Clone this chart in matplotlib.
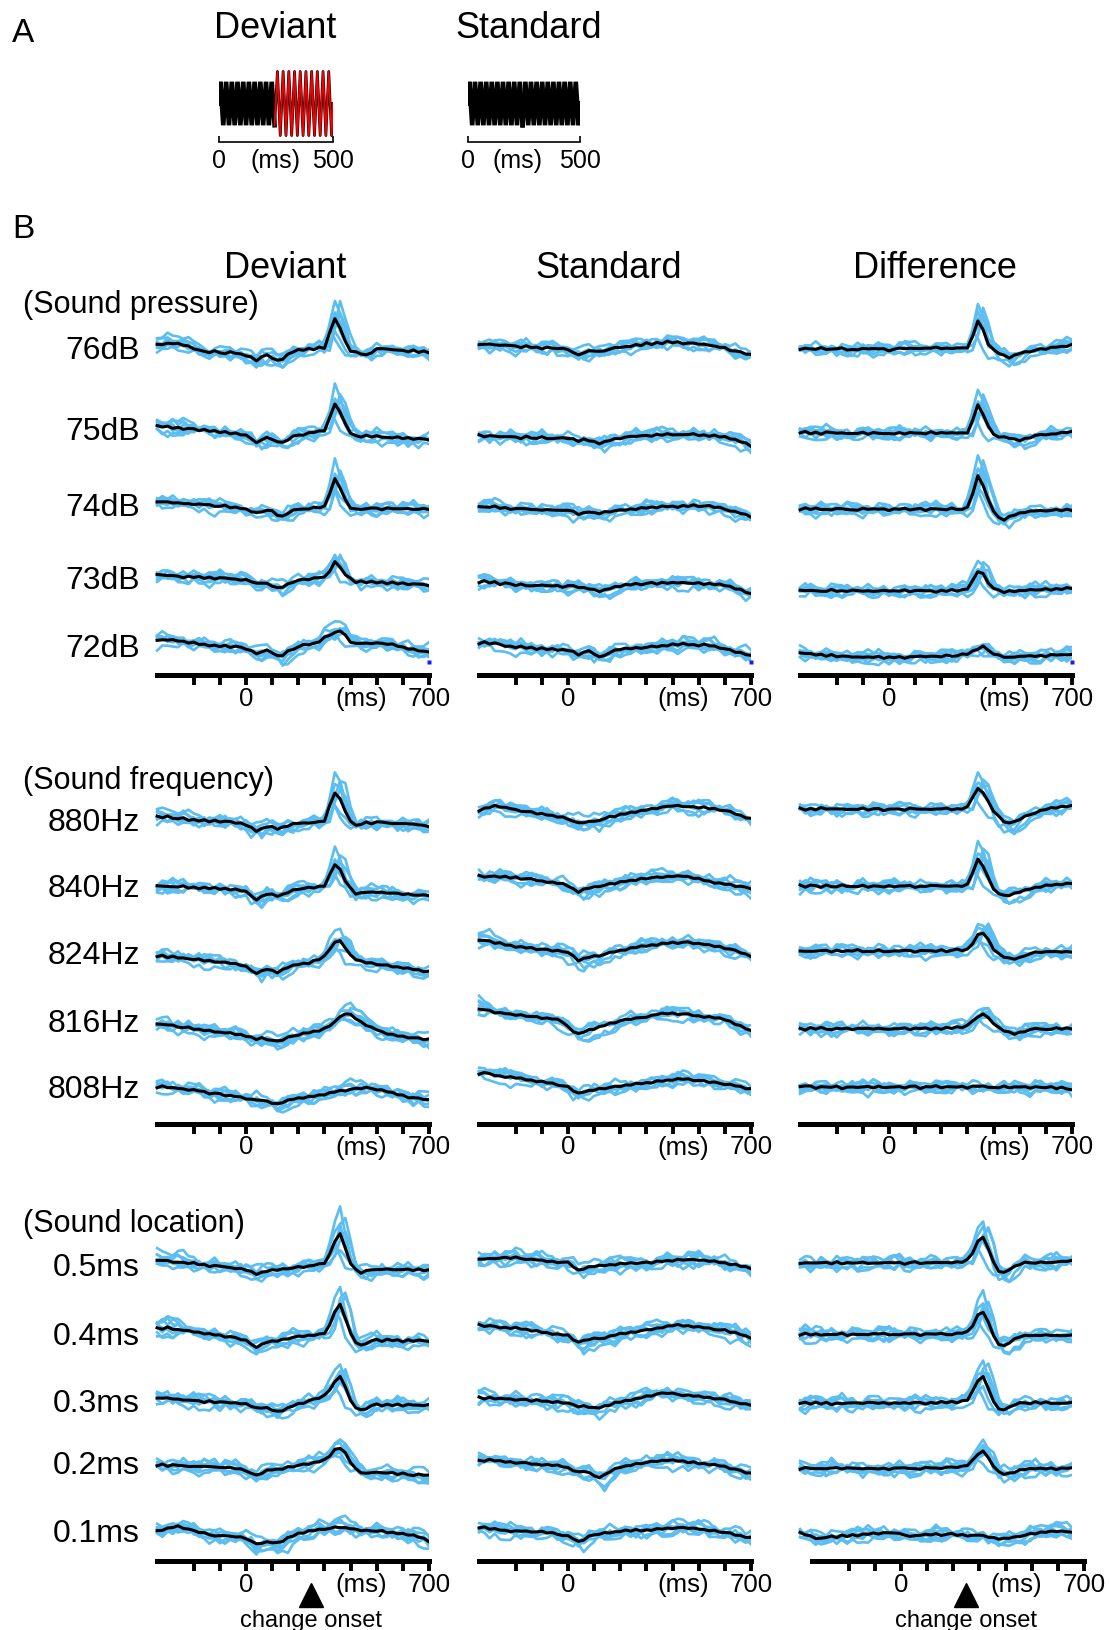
import numpy as np
import matplotlib.pyplot as plt
from matplotlib.transforms import blended_transform_factory, offset_copy

plt.rcParams['font.family'] = ['Liberation Sans', 'DejaVu Sans']

W, H = 1110, 1630
fig = plt.figure(figsize=(W / 100, H / 100), dpi=100)

TRACE_BLUE = '#5bbdf0'

# time base of the averaged responses, ms from deviant onset
t_ms = np.arange(-340, 701, 20)

# ---------------- grand means (uV) ----------------
# sound pressure
dev_76dB = [0.8,1.0,1.2,1.3,1.1,0.8,0.4,0.0,-0.5,-0.9,-1.0,-0.8,-1.1,-1.2,-1.0,-1.3,-1.6,-1.8,-2.3,-3.0,-2.2,-1.8,-2.4,-3.0,-2.6,-1.6,-0.9,-0.5,-0.4,-0.1,-0.2,0.1,0.0,3.8,7.5,5.0,1.6,-0.6,-1.0,-1.4,-1.7,-1.0,-0.3,0.0,-0.2,-0.5,-0.3,-0.6,-0.8,-0.6,-1.0,-0.8,-1.0]
dev_75dB = [0.8,0.6,0.7,0.4,0.3,0.1,0.2,0.0,-0.2,-0.1,-0.4,-0.5,-0.8,-0.7,-1.0,-1.1,-1.3,-1.5,-2.2,-3.5,-2.6,-2.2,-2.4,-3.2,-3.4,-2.6,-1.9,-1.4,-1.3,-1.0,-0.8,-0.6,-0.3,2.8,6.5,4.2,1.2,-0.9,-1.6,-1.8,-1.6,-1.9,-1.8,-1.9,-2.1,-2.0,-2.1,-2.3,-2.2,-2.4,-2.3,-2.6,-2.5]
dev_74dB = [0.8,1.0,0.7,0.6,0.4,0.5,0.3,0.3,0.1,0.2,0.0,-0.2,-0.3,-0.2,-0.5,-0.6,-0.8,-1.0,-1.5,-2.0,-1.6,-1.3,-1.5,-2.4,-2.8,-2.0,-1.4,-1.0,-1.1,-0.8,-0.7,-0.6,-0.3,3.0,6.5,4.3,1.2,-0.6,-1.0,-1.2,-0.8,-0.9,-0.7,-1.0,-0.8,-0.9,-1.1,-0.8,-1.0,-0.9,-1.1,-1.0,-1.0]
dev_73dB = [0.8,0.6,0.7,0.4,0.5,0.2,0.3,0.1,0.2,0.0,0.1,-0.1,0.0,-0.2,-0.1,-0.3,-0.4,-0.5,-0.9,-1.5,-1.2,-1.4,-1.9,-2.6,-2.3,-1.6,-1.0,-0.6,-0.5,-0.3,-0.1,0.1,0.2,1.8,3.9,2.8,0.8,-0.2,-1.0,-0.8,-1.1,-1.0,-1.2,-1.1,-1.3,-1.2,-1.4,-1.3,-1.5,-1.6,-1.5,-1.8,-1.8]
dev_72dB = [1.7,1.6,1.7,1.5,1.4,1.2,1.0,0.9,0.6,0.5,0.3,0.2,0.0,0.1,-0.1,0.0,-0.3,-0.6,-1.2,-1.8,-1.2,-1.0,-1.6,-2.5,-2.2,-1.2,-0.6,-0.2,0.3,0.5,0.8,1.3,2.2,2.8,3.3,4.0,2.8,1.2,0.6,0.8,0.7,0.8,0.9,0.6,0.7,0.5,0.1,-0.2,-0.5,-0.8,-1.0,-1.2,-1.5]

std_76dB = [1.0,0.8,1.1,0.7,0.9,0.6,0.8,0.5,0.3,0.5,0.2,0.1,0.0,0.2,-0.1,0.0,-0.2,-0.3,-0.9,-1.8,-1.2,-0.8,-0.6,-0.9,-0.5,-0.3,0.0,0.3,0.4,0.6,0.8,0.7,1.2,1.0,1.4,1.3,1.6,1.4,1.5,1.2,1.3,1.1,1.2,0.9,0.8,0.5,0.4,0.0,-0.5,-0.7,-1.0,-1.3,-1.6]
std_75dB = [-1.5,-1.8,-1.6,-1.9,-1.7,-2.0,-1.8,-2.0,-2.2,-1.9,-2.1,-2.3,-2.0,-2.2,-2.4,-2.1,-2.3,-2.3,-2.5,-2.9,-2.6,-2.8,-3.1,-3.5,-3.2,-2.8,-2.5,-2.2,-2.0,-1.9,-1.7,-1.8,-1.5,-1.6,-1.4,-1.5,-1.3,-1.3,-1.5,-1.2,-1.4,-1.3,-1.5,-1.4,-1.6,-1.6,-1.9,-2.0,-2.3,-2.6,-3.0,-3.6,-4.2]
std_74dB = [-0.5,-0.3,-0.6,-0.4,-0.7,-0.6,-0.9,-1.0,-0.8,-1.1,-1.0,-1.2,-1.1,-1.3,-1.2,-1.4,-1.2,-1.3,-1.7,-2.2,-2.0,-1.7,-1.9,-2.0,-1.8,-1.6,-1.4,-1.3,-1.1,-1.0,-1.0,-0.8,-0.7,-0.6,-0.5,-0.4,-0.3,-0.3,-0.4,-0.2,-0.3,-0.1,-0.2,-0.3,-0.2,-0.5,-0.7,-1.0,-1.3,-1.7,-2.1,-2.5,-2.9]
std_73dB = [-1.0,-0.8,-1.2,-1.1,-1.5,-1.3,-1.6,-1.8,-1.7,-1.9,-1.8,-2.0,-1.8,-2.1,-1.9,-2.0,-2.2,-2.0,-2.1,-2.3,-2.4,-2.6,-3.0,-3.4,-3.1,-2.6,-2.2,-2.0,-1.8,-1.7,-1.5,-1.6,-1.4,-1.3,-1.4,-1.2,-1.3,-1.2,-1.1,-1.3,-1.2,-1.4,-1.3,-1.5,-1.4,-1.6,-1.7,-1.9,-2.2,-2.6,-3.0,-3.5,-4.0]
std_72dB = [0.8,1.0,0.7,0.9,0.4,0.2,0.0,-0.2,-0.1,-0.4,-0.3,-0.6,-0.5,-0.7,-0.6,-0.8,-0.9,-1.0,-1.4,-2.0,-1.5,-1.2,-1.8,-2.8,-2.2,-1.4,-1.0,-0.8,-0.6,-0.5,-0.4,-0.3,-0.3,-0.1,0.0,0.2,0.3,0.5,0.4,0.6,0.5,0.4,0.3,0.4,0.2,0.0,-0.3,-0.6,-1.0,-1.3,-1.6,-2.0,-2.3]

diff_76dB = [-0.2,0.0,-0.3,-0.1,0.1,-0.2,-0.4,-0.1,0.0,-0.3,-0.5,-0.3,-0.1,0.0,-0.2,-0.1,-0.3,-0.5,-0.3,-0.1,0.0,-0.2,0.0,0.1,-0.1,0.0,0.1,0.0,-0.1,0.1,0.0,-0.1,0.2,3.0,7.0,4.5,1.0,-0.5,-1.2,-1.8,-2.3,-1.9,-1.3,-1.0,-0.8,-0.5,-0.3,-0.1,0.1,0.3,0.4,0.6,0.8]
diff_75dB = [-0.8,-0.6,-1.0,-0.9,-1.2,-0.8,-0.7,-1.0,-1.1,-0.9,-1.2,-1.0,-0.8,-1.1,-1.0,-0.9,-1.1,-1.2,-1.0,-0.9,-1.1,-1.0,-0.9,-1.1,-1.0,-0.8,-1.0,-0.9,-0.8,-1.0,-0.9,-1.1,-0.8,2.2,6.0,3.8,0.6,-1.2,-1.8,-2.0,-2.3,-2.6,-2.8,-2.4,-2.0,-1.6,-1.5,-1.3,-1.2,-1.0,-0.9,-0.8,-0.7]
diff_74dB = [-1.0,-0.8,-1.1,-0.9,-1.0,-1.2,-1.0,-0.9,-1.1,-1.0,-1.2,-1.1,-0.9,-1.0,-1.1,-0.9,-1.0,-1.2,-1.1,-1.0,-0.9,-1.1,-1.0,-1.0,-1.2,-1.0,-0.9,-1.1,-1.0,-0.9,-1.0,-1.1,-0.6,3.0,7.3,5.0,1.2,-1.5,-3.2,-3.6,-3.0,-2.4,-2.0,-1.7,-1.6,-1.4,-1.5,-1.3,-1.4,-1.2,-1.3,-1.2,-1.3]
diff_73dB = [-3.2,-3.0,-3.3,-3.1,-3.4,-3.2,-3.0,-3.3,-3.4,-3.2,-3.1,-3.3,-3.2,-3.4,-3.3,-3.1,-3.2,-3.3,-3.4,-3.2,-3.1,-3.3,-3.2,-3.3,-3.1,-3.2,-3.4,-3.2,-3.3,-3.1,-3.2,-3.0,-2.6,-0.8,1.6,1.0,-1.2,-2.6,-3.2,-3.5,-3.3,-3.4,-3.2,-3.0,-3.1,-2.9,-3.0,-2.8,-2.9,-2.7,-2.8,-2.6,-2.6]
diff_72dB = [-1.8,-1.6,-1.9,-2.1,-2.0,-2.3,-2.2,-2.5,-2.4,-2.6,-2.5,-2.7,-2.6,-2.8,-2.7,-2.6,-2.8,-2.8,-2.7,-2.6,-2.8,-2.7,-2.5,-2.6,-2.4,-2.5,-2.6,-2.5,-2.3,-2.4,-2.2,-2.0,-2.0,-1.3,-0.6,0.0,-0.8,-2.0,-2.3,-2.6,-2.7,-2.5,-2.6,-2.4,-2.5,-2.4,-2.3,-2.4,-2.2,-2.1,-2.2,-2.0,-2.0]

# sound frequency
dev_880Hz = [0.8,0.6,0.9,0.5,0.3,0.4,0.1,0.0,-0.2,0.0,-0.3,-0.2,-0.4,-0.3,-0.5,-0.6,-0.8,-1.2,-2.0,-2.8,-2.2,-1.6,-1.8,-2.2,-1.8,-1.4,-1.0,-0.8,-0.9,-0.6,-0.7,-0.5,-0.2,3.5,6.8,5.5,2.0,-0.3,-1.5,-1.0,-0.6,-0.8,-0.5,-0.7,-0.6,-0.9,-0.7,-1.0,-0.9,-1.2,-1.1,-1.4,-1.5]
dev_840Hz = [0.0,0.2,-0.1,0.1,-0.2,0.0,-0.3,-0.1,-0.4,-0.3,-0.5,-0.4,-0.6,-0.5,-0.7,-0.8,-1.0,-1.3,-2.2,-3.4,-2.6,-1.8,-2.0,-2.4,-2.0,-1.4,-1.0,-0.6,-0.5,-0.3,-0.2,0.0,0.2,2.8,5.5,4.2,1.5,-0.5,-1.8,-1.6,-1.3,-1.5,-1.4,-1.6,-1.5,-1.7,-1.8,-1.9,-2.0,-2.1,-2.0,-2.2,-2.3]
dev_824Hz = [-0.8,-0.6,-1.0,-0.9,-1.2,-1.4,-1.3,-1.7,-1.6,-1.9,-2.0,-2.2,-2.1,-2.4,-2.6,-2.8,-3.0,-3.4,-4.2,-5.2,-4.6,-4.0,-4.3,-4.8,-4.2,-3.6,-3.2,-2.8,-2.6,-2.5,-2.0,-1.6,-0.8,1.0,2.7,2.9,1.4,-0.6,-1.6,-2.0,-2.3,-2.6,-2.8,-3.0,-3.1,-3.3,-3.5,-3.7,-3.9,-4.1,-4.3,-4.5,-4.7]
dev_816Hz = [-0.8,-1.0,-0.9,-1.3,-1.5,-1.8,-1.7,-2.0,-2.2,-2.4,-2.6,-2.8,-3.0,-2.9,-3.2,-3.4,-3.5,-3.8,-4.2,-4.7,-4.4,-4.6,-5.0,-5.2,-4.8,-4.3,-3.8,-3.5,-3.2,-3.1,-2.8,-2.5,-2.0,-1.2,-0.3,0.8,1.8,1.6,0.6,-0.4,-1.2,-1.8,-2.2,-2.8,-3.2,-3.6,-3.8,-4.0,-4.2,-4.3,-4.5,-4.6,-4.7]
dev_808Hz = [0.0,0.2,-0.1,-0.3,-0.2,-0.5,-0.6,-0.8,-0.9,-1.2,-1.6,-1.5,-1.8,-2.0,-2.2,-2.3,-2.5,-2.8,-3.2,-3.1,-3.3,-3.6,-3.9,-4.2,-3.8,-3.4,-3.0,-2.8,-2.6,-2.5,-2.2,-2.0,-1.8,-1.5,-1.2,-1.0,-0.8,-0.6,-0.4,-0.3,-0.2,-0.3,-0.5,-0.8,-1.2,-1.5,-1.8,-2.1,-2.5,-2.7,-2.9,-3.0,-3.1]

std_880Hz = [2.3,2.8,3.2,3.6,3.4,3.0,2.9,2.5,2.3,2.1,1.9,1.7,1.5,1.3,1.1,0.9,0.6,0.3,-0.3,-0.8,-0.5,-0.4,-0.2,-0.3,0.4,0.8,1.0,1.3,1.6,1.9,2.1,2.3,2.5,2.7,3.0,3.2,3.3,3.6,3.5,3.4,3.5,3.2,3.0,3.1,2.9,2.8,2.6,2.3,2.0,1.6,1.2,0.7,0.3]
std_840Hz = [2.6,2.4,2.7,2.5,2.3,2.4,2.2,2.3,2.0,1.9,1.8,1.6,1.4,1.2,1.0,0.8,0.6,0.2,-0.6,-1.3,-0.8,-0.4,-0.2,0.1,0.3,0.6,0.8,1.1,1.3,1.5,1.7,1.9,2.0,2.2,2.3,2.4,2.5,2.6,2.5,2.6,2.4,2.2,1.9,1.6,1.3,1.0,0.8,0.6,0.4,0.2,0.0,-0.3,-0.5]
std_824Hz = [3.0,3.2,2.9,2.6,2.4,2.1,1.9,1.6,1.5,1.3,1.2,1.0,0.9,0.8,0.6,0.5,0.4,0.3,-0.8,-2.0,-1.5,-1.0,-0.8,-0.6,-0.4,0.0,0.4,0.7,0.9,1.2,1.4,1.6,1.8,2.0,2.1,2.3,2.4,2.6,2.5,2.7,2.6,2.5,2.3,2.2,2.0,1.8,1.5,1.2,1.0,0.6,0.2,-0.3,-0.8]
std_816Hz = [3.0,2.7,2.4,2.1,1.9,1.8,1.6,1.5,1.3,1.2,1.0,0.9,0.7,0.6,0.5,0.2,-0.4,-1.6,-2.6,-3.4,-2.8,-2.3,-2.0,-1.6,-1.2,-0.8,-0.4,-0.1,0.2,0.4,0.5,0.8,1.0,1.2,1.5,1.7,1.8,1.8,1.7,1.6,1.5,1.3,1.2,1.0,0.9,0.7,0.5,0.3,-0.2,-0.8,-1.4,-2.0,-2.6]
std_808Hz = [3.4,3.6,3.2,3.0,2.8,2.6,2.5,2.3,2.1,1.9,1.7,1.5,1.3,1.1,0.9,0.6,0.3,0.0,-0.8,-1.6,-1.2,-0.9,-0.6,-0.5,-0.3,-0.1,0.1,0.3,0.5,0.6,0.8,0.9,1.0,1.2,1.4,1.6,1.7,1.9,2.0,2.0,1.9,1.8,1.6,1.5,1.3,1.1,1.0,0.8,0.6,0.3,0.0,-0.3,-0.5]

diff_880Hz = [2.8,2.6,2.9,2.7,3.0,2.8,2.6,2.9,2.7,2.8,2.5,2.7,2.9,2.6,2.8,2.7,2.5,2.6,2.8,2.7,2.6,2.8,2.9,2.7,2.6,2.8,2.7,2.9,2.8,2.6,2.7,2.9,3.2,5.8,7.8,7.0,4.5,2.2,0.8,-0.3,-0.8,-0.5,0.2,0.8,1.4,1.9,2.3,2.6,2.9,3.1,3.3,3.5,3.6]
diff_840Hz = [0.2,0.0,0.3,0.1,-0.1,0.2,0.0,0.1,0.3,0.0,-0.2,0.1,0.2,0.0,0.1,-0.1,0.0,0.2,0.1,0.0,0.2,0.1,-0.1,0.0,0.2,0.1,0.3,0.0,0.2,0.1,0.0,0.2,0.5,3.5,6.8,5.2,2.0,-0.5,-1.8,-2.3,-2.1,-1.7,-1.3,-1.0,-0.6,-0.3,0.0,0.2,0.4,0.5,0.6,0.7,0.8]
diff_824Hz = [0.5,0.3,0.6,0.4,0.7,0.5,0.3,0.6,0.5,0.4,0.6,0.8,0.5,0.3,0.4,0.6,0.5,0.3,0.4,0.6,0.5,0.7,0.4,0.5,0.6,0.4,0.5,0.7,0.5,0.6,0.8,0.7,1.0,2.5,4.5,5.0,3.2,1.0,-0.2,-0.9,-1.4,-1.5,-1.2,-0.6,-0.2,0.1,0.3,0.2,0.4,0.3,0.4,0.2,0.3]
diff_816Hz = [-2.0,-2.2,-1.9,-2.1,-1.8,-2.0,-2.3,-2.1,-1.9,-2.0,-2.2,-2.0,-1.8,-2.1,-2.0,-1.9,-2.2,-2.0,-2.1,-1.9,-2.0,-2.2,-2.0,-1.8,-2.0,-2.1,-1.9,-2.0,-1.8,-1.9,-1.7,-1.6,-1.2,-0.2,1.0,1.5,0.8,-0.6,-1.8,-2.6,-3.0,-3.3,-3.0,-2.6,-2.3,-2.1,-2.0,-2.2,-2.0,-1.9,-2.1,-2.0,-2.0]
diff_808Hz = [0.0,0.3,0.1,-0.2,0.0,0.2,-0.1,0.1,-0.3,0.0,0.2,-0.2,0.1,0.0,-0.1,0.2,0.0,-0.2,0.1,0.0,-0.1,0.2,0.1,-0.2,0.0,0.1,0.3,0.0,-0.1,0.2,0.0,0.1,-0.1,0.2,0.3,0.1,0.0,-0.2,0.0,0.1,-0.1,0.0,0.2,0.0,-0.2,-0.1,0.1,-0.2,0.0,-0.3,-0.2,-0.4,-0.5]

# sound location (interaural time difference)
dev_0p5ms = [1.0,1.2,0.9,0.7,0.8,0.5,0.3,0.4,0.1,0.0,-0.3,-0.2,-0.5,-0.4,-0.7,-0.8,-1.0,-1.3,-1.8,-2.3,-1.9,-1.5,-1.4,-1.3,-1.1,-0.9,-0.8,-0.6,-0.5,-0.4,-0.1,0.2,0.5,2.5,6.0,7.8,4.0,0.5,-1.2,-2.0,-1.6,-1.2,-1.3,-1.0,-1.2,-1.1,-1.3,-1.0,-1.2,-1.4,-1.2,-1.3,-1.3]
dev_0p4ms = [1.6,1.4,1.7,1.3,1.1,1.2,0.8,0.7,0.5,0.3,0.1,-0.1,-0.3,-0.5,-0.6,-0.9,-1.2,-1.6,-2.4,-3.1,-2.6,-2.0,-1.8,-1.6,-1.3,-1.0,-0.8,-0.6,-0.4,-0.2,-0.1,0.0,0.3,2.2,5.8,7.5,4.2,0.2,-2.0,-2.8,-2.2,-1.6,-1.4,-1.6,-1.3,-1.5,-1.4,-1.7,-1.5,-1.6,-1.4,-1.7,-1.6]
dev_0p3ms = [0.8,0.6,0.9,0.5,0.3,0.4,0.1,0.2,0.0,-0.2,-0.1,-0.3,-0.2,-0.4,-0.3,-0.5,-0.6,-0.8,-1.3,-1.8,-1.6,-1.8,-2.2,-2.6,-2.3,-1.8,-1.2,-0.8,-0.4,0.0,0.4,0.8,1.3,2.8,5.0,6.0,3.5,0.0,-1.6,-2.3,-1.8,-1.2,-0.9,-1.1,-0.8,-1.0,-0.9,-1.2,-1.0,-0.9,-1.1,-1.0,-1.0]
dev_0p2ms = [-0.5,-0.3,-0.6,-0.4,-0.7,-0.5,-0.8,-0.6,-0.9,-0.7,-1.0,-0.8,-1.1,-0.9,-1.2,-1.3,-1.5,-1.8,-2.5,-3.1,-2.4,-1.8,-1.6,-1.5,-1.3,-1.0,-0.8,-0.5,-0.3,-0.1,0.2,0.5,0.8,1.8,3.4,3.9,2.5,0.3,-1.4,-2.2,-2.6,-2.3,-2.4,-2.2,-2.5,-2.4,-2.7,-2.6,-2.8,-2.9,-2.8,-3.0,-3.1]
dev_0p1ms = [0.0,0.3,0.6,0.9,1.1,0.8,0.4,0.0,-0.3,-0.6,-0.9,-1.1,-1.3,-1.2,-1.5,-1.4,-1.6,-1.8,-2.6,-3.4,-3.0,-2.7,-2.8,-3.0,-2.6,-1.8,-1.2,-0.6,-0.4,-0.1,0.1,0.3,0.5,0.6,0.8,1.0,0.7,0.6,0.4,0.2,0.0,0.1,-0.1,0.0,-0.3,-0.4,-0.6,-0.8,-1.0,-1.1,-1.4,-2.0,-2.6]

std_0p5ms = [1.3,1.5,1.4,1.7,1.6,1.8,1.7,1.8,1.6,1.5,1.3,1.2,1.0,0.9,0.8,0.7,0.6,0.5,-0.4,-1.3,-0.9,-0.6,-0.4,-0.3,-0.1,0.0,0.1,0.2,0.3,0.4,0.4,0.5,0.5,0.6,0.8,0.9,1.0,1.1,1.2,1.3,1.3,1.2,1.3,1.1,1.0,0.8,0.6,0.4,0.2,0.0,-0.3,-0.5,-0.8]
std_0p4ms = [2.3,2.1,2.2,1.9,1.8,1.7,1.6,1.6,1.4,1.2,1.0,0.8,0.6,0.4,0.2,0.0,-0.1,-0.3,-1.2,-2.0,-1.6,-1.2,-1.1,-1.0,-0.8,-0.5,-0.2,0.1,0.3,0.5,0.7,0.9,1.0,1.3,1.6,1.8,2.0,2.2,2.3,2.2,2.1,2.0,1.8,1.7,1.5,1.3,1.1,1.0,0.7,0.4,0.0,-0.4,-0.8]
std_0p3ms = [0.8,0.6,0.9,0.7,0.5,0.6,0.4,0.3,0.4,0.2,0.1,0.2,0.0,-0.1,-0.2,-0.3,-0.4,-0.5,-1.0,-1.3,-1.2,-1.5,-1.8,-1.7,-1.3,-0.9,-0.5,-0.2,0.1,0.3,0.5,0.8,1.1,1.4,1.7,1.9,2.0,1.8,1.7,1.5,1.4,1.2,1.1,1.0,0.8,0.7,0.5,0.3,0.0,-0.3,-0.5,-0.8,-1.0]
std_0p2ms = [0.8,0.7,0.9,0.6,0.5,0.4,0.3,0.2,0.1,0.0,-0.1,-0.2,-0.3,-0.4,-0.5,-0.6,-0.8,-1.1,-1.7,-2.3,-2.0,-2.4,-3.0,-3.6,-3.0,-2.0,-1.4,-1.0,-0.7,-0.4,-0.2,0.0,0.2,0.4,0.6,0.7,0.8,0.7,0.6,0.5,0.3,0.2,0.0,-0.1,-0.2,-0.4,-0.6,-0.9,-1.2,-1.5,-1.9,-2.3,-2.6]
std_0p1ms = [0.8,0.9,0.6,0.4,0.3,0.1,0.0,-0.1,0.0,-0.2,-0.1,-0.3,-0.2,-0.4,-0.6,-0.8,-1.0,-1.3,-2.0,-2.8,-2.2,-1.4,-0.8,-0.9,-0.6,-0.4,-0.2,0.0,0.1,0.0,0.2,0.1,0.2,0.3,0.4,0.5,0.6,0.7,0.8,0.7,0.8,0.6,0.5,0.3,0.2,0.0,-0.2,-0.4,-0.6,-0.9,-1.2,-1.5,-1.8]

diff_0p5ms = [0.5,0.3,0.6,0.4,0.7,0.5,0.3,0.6,0.4,0.5,0.3,0.6,0.5,0.4,0.6,0.3,0.5,0.4,0.6,0.5,0.3,0.5,0.6,0.4,0.5,0.7,0.5,0.6,0.4,0.6,0.7,0.8,1.2,3.0,5.8,7.0,4.0,0.5,-1.5,-2.0,-1.2,-0.4,0.2,0.5,0.6,0.4,0.6,0.7,0.5,0.8,0.7,0.9,1.0]
diff_0p4ms = [0.0,0.2,-0.1,0.1,0.0,-0.2,0.1,0.0,0.2,-0.1,0.0,0.1,-0.2,0.0,0.1,0.3,0.1,0.0,-0.1,0.1,0.0,0.2,0.0,-0.1,0.1,0.0,0.2,0.1,0.0,0.1,0.2,0.3,0.6,2.2,4.8,5.7,3.0,-0.5,-2.4,-2.8,-2.0,-1.2,-0.6,-0.4,-0.2,-0.3,-0.1,-0.3,-0.2,-0.4,-0.2,-0.3,-0.3]
diff_0p3ms = [-0.5,-0.3,-0.6,-0.4,-0.7,-0.5,-0.8,-0.6,-0.5,-0.7,-0.4,-0.6,-0.5,-0.3,-0.6,-0.4,-0.5,-0.7,-0.5,-0.4,-0.6,-0.5,-0.3,-0.5,-0.6,-0.4,-0.5,-0.3,-0.4,-0.2,-0.3,-0.1,0.3,2.5,5.2,6.0,3.2,-0.3,-1.8,-2.3,-1.6,-0.9,-0.6,-0.4,-0.5,-0.3,-0.6,-0.4,-0.5,-0.7,-0.4,-0.6,-0.5]
diff_0p2ms = [-1.3,-1.1,-1.4,-1.2,-1.5,-1.3,-1.0,-1.2,-1.4,-1.3,-1.1,-1.4,-1.2,-1.3,-1.5,-1.3,-1.2,-1.4,-1.3,-1.1,-1.3,-1.2,-1.4,-1.3,-1.2,-1.1,-1.3,-1.2,-1.0,-1.1,-0.9,-0.8,-0.5,0.8,2.4,2.9,1.5,-0.8,-2.2,-2.6,-2.5,-2.2,-1.8,-1.5,-1.4,-1.2,-1.4,-1.3,-1.2,-1.4,-1.3,-1.2,-1.3]
diff_0p1ms = [-0.5,-0.8,-1.3,-1.8,-2.0,-1.6,-1.4,-1.5,-1.2,-1.3,-1.0,-1.1,-0.9,-0.8,-0.7,-0.6,-0.5,-0.6,-0.4,-0.8,-1.0,-1.2,-1.3,-1.1,-1.0,-0.9,-0.8,-1.0,-0.9,-0.8,-1.0,-0.9,-1.1,-1.2,-1.0,-1.3,-1.5,-1.7,-1.9,-2.0,-1.8,-1.6,-1.3,-1.1,-0.8,-0.6,-0.4,-0.3,-0.1,0.0,-0.2,-0.1,-0.3]

# ---------------- single-animal deviations from the mean (uV) ----------------
trial_noise_1 = [0.4,0.8,1.2,0.9,0.5,0.7,1.1,1.4,1.0,0.6,0.2,-0.3,-0.1,0.3,0.6,0.2,-0.4,-0.8,-0.5,-0.1,0.3,0.7,0.4,0.0,-0.5,-0.9,-0.6,-0.2,0.1,0.5,0.9,0.6,0.2,-0.2,0.1,0.5,0.8,1.2,0.9,0.4,0.0,-0.4,-0.7,-0.3,0.2,0.6,0.3,-0.1,-0.5,-0.2,0.2,0.5,0.3]
trial_noise_2 = [-0.6,-0.9,-0.5,-1.1,-1.4,-1.0,-0.7,-0.3,-0.6,-1.0,-0.8,-0.4,0.0,0.4,0.1,-0.3,-0.7,-0.4,0.1,0.5,0.2,-0.2,-0.6,-1.0,-1.3,-0.9,-0.5,-0.8,-0.4,0.0,-0.3,-0.7,-1.1,-0.8,-0.4,-0.1,-0.5,-0.9,-1.2,-0.8,-0.5,-0.9,-0.6,-0.2,0.2,-0.1,-0.5,-0.8,-1.1,-0.7,-0.4,-0.8,-0.5]
trial_noise_3 = [0.2,-0.2,0.3,0.6,0.2,-0.3,-0.6,-0.2,0.2,0.7,1.0,0.6,0.9,1.3,0.9,0.5,0.8,0.4,0.0,0.3,0.7,1.1,0.8,0.4,0.6,1.0,1.3,0.9,0.5,0.2,0.6,0.3,-0.1,-0.4,0.0,0.4,0.1,-0.3,0.2,0.6,1.0,0.7,0.3,0.7,1.1,0.8,0.4,0.1,0.5,0.9,0.6,0.2,0.5]
trial_noise_4 = [-0.3,0.1,-0.4,-0.8,-1.2,-0.9,-1.3,-1.6,-1.2,-0.8,-1.1,-0.7,-0.3,-0.6,-0.2,0.2,-0.1,-0.5,-0.9,-1.3,-1.0,-0.6,-0.9,-0.5,-0.1,0.3,0.0,-0.4,-0.8,-0.5,-0.1,-0.4,-0.8,-1.2,-0.9,-0.5,-0.8,-1.2,-1.5,-1.1,-0.7,-0.3,-0.6,-1.0,-0.7,-0.3,0.1,-0.2,-0.6,-0.3,-0.7,-1.0,-0.6]
trial_noise_5 = [0.9,1.3,1.0,0.6,0.3,0.7,0.4,0.0,-0.4,-0.1,0.3,0.0,-0.4,-0.8,-0.5,-0.9,-1.2,-0.8,-0.4,0.0,0.4,0.8,1.1,0.7,0.3,-0.1,-0.5,-0.2,0.2,0.6,0.3,-0.1,0.3,0.7,0.4,0.0,-0.3,0.1,0.5,0.2,-0.2,-0.6,-0.3,0.1,0.4,0.8,1.2,0.8,0.4,0.7,1.0,0.6,0.3]
trial_noise_6 = [-0.2,-0.6,-1.0,-0.7,-0.3,0.1,0.5,0.2,-0.2,0.2,0.6,0.3,0.7,0.4,0.0,-0.4,-0.1,0.3,-0.1,-0.5,-0.2,-0.6,-1.0,-0.7,-1.1,-0.8,-0.4,-0.7,-0.3,0.1,0.4,0.1,-0.3,-0.7,-1.0,-0.6,-0.3,-0.7,-0.4,0.0,0.3,-0.1,-0.4,-0.1,0.3,0.0,-0.4,-0.8,-0.5,-0.1,0.2,-0.2,-0.5]
trial_noise_7 = [0.5,0.2,-0.1,0.3,0.0,-0.4,-0.1,0.4,0.8,0.5,0.1,-0.3,0.1,-0.2,-0.6,-0.3,0.1,0.5,0.9,0.6,0.2,0.5,0.1,-0.3,0.0,0.4,0.1,0.5,0.9,1.2,0.8,0.4,0.0,0.3,-0.1,-0.5,-0.2,0.2,-0.2,-0.5,-0.1,0.3,0.7,0.4,0.0,-0.3,0.1,0.5,0.2,-0.2,-0.5,-0.1,0.2]
trial_noise = [trial_noise_1, trial_noise_2, trial_noise_3, trial_noise_4,
               trial_noise_5, trial_noise_6, trial_noise_7]
# sample-to-sample ripple riding on every recording
ripple = [0.3,-0.2,0.1,-0.3,0.2,-0.1,0.3,-0.3,0.1,0.2,-0.2,0.3,-0.1,-0.3,0.2,0.0,0.3,-0.2,0.2,-0.3,0.1,0.3,-0.2,0.0,-0.3,0.2,-0.1,0.3,-0.2,0.1,-0.3,0.3,-0.1,0.2,-0.2,0.0,0.3,-0.3,0.2,-0.1,0.1,-0.3,0.3,-0.2,0.0,0.2,-0.3,0.1,-0.2,0.3,-0.1,0.2,-0.3]
# relative response size and latency step (x20 ms) of each animal
trial_gain = [0.55, 0.25, 0.10, -0.15, -0.30, 0.40, 0.00]
trial_lag = [0, 1, 0, -1, 0, 1, 0]

group_titles = ['(Sound pressure)', '(Sound frequency)', '(Sound location)']
row_labels = [['76dB', '75dB', '74dB', '73dB', '72dB'],
              ['880Hz', '840Hz', '824Hz', '816Hz', '808Hz'],
              ['0.5ms', '0.4ms', '0.3ms', '0.2ms', '0.1ms']]
deviant = [[dev_76dB, dev_75dB, dev_74dB, dev_73dB, dev_72dB],
           [dev_880Hz, dev_840Hz, dev_824Hz, dev_816Hz, dev_808Hz],
           [dev_0p5ms, dev_0p4ms, dev_0p3ms, dev_0p2ms, dev_0p1ms]]
standard = [[std_76dB, std_75dB, std_74dB, std_73dB, std_72dB],
            [std_880Hz, std_840Hz, std_824Hz, std_816Hz, std_808Hz],
            [std_0p5ms, std_0p4ms, std_0p3ms, std_0p2ms, std_0p1ms]]
difference = [[diff_76dB, diff_75dB, diff_74dB, diff_73dB, diff_72dB],
              [diff_880Hz, diff_840Hz, diff_824Hz, diff_816Hz, diff_808Hz],
              [diff_0p5ms, diff_0p4ms, diff_0p3ms, diff_0p2ms, diff_0p1ms]]
change_onset_ms = 250
stray_dot = (700, -4.0)

# stimulus sketch: tone level (relative) of each 250 ms half
deviant_levels = [0.68, 1.0]
standard_levels = [0.68, 0.68]
tone_half_cycle_ms = 12.5


# ---------------- helpers ----------------
def px_axes(left, top, width, height):
    # rectangle given in pixels from the top-left corner
    return fig.add_axes([left / W, 1 - (top + height) / H, width / W, height / H])


def ftext(x, y, s, **kw):
    fig.text(x / W, 1 - y / H, s, **kw)


def lag(y, s):
    if s > 0:
        return np.concatenate([np.full(s, y[0]), y[:-s]])
    if s < 0:
        return np.concatenate([y[-s:], np.full(-s, y[-1])])
    return y


def draw_traces(ax, mean, panel_no, spread):
    mean = np.asarray(mean, dtype=float)
    n = len(mean)
    t = t_ms[:n]
    base = np.median(mean)
    rip = np.asarray(ripple)
    for k in range(len(trial_noise)):
        m = lag(mean, trial_lag[k])
        noise = np.roll(np.asarray(trial_noise[k]), 7 * panel_no + 5 * k)[:n]
        fine = np.roll(rip, 3 * panel_no + 11 * k)[:n]
        y = m + trial_gain[k] * (m - base) + spread * noise + 1.3 * fine
        ax.plot(t, y, color=TRACE_BLUE, lw=1.9, solid_joinstyle='round')
    black = mean + 0.6 * np.roll(rip, 5 * panel_no)[:n]
    ax.plot(t, black, color='black', lw=2.2, solid_joinstyle='round')


def time_bar(ax, onset=False):
    ax.set_xlim(-350, 700)
    ax.set_ylim(0, 1)
    ax.patch.set_visible(False)
    for side in ('top', 'left', 'right'):
        ax.spines[side].set_visible(False)
    ax.spines['bottom'].set_linewidth(3.6)
    ax.spines['bottom'].set_bounds(-340, 700)
    ax.set_yticks([])
    ax.set_xticks(np.arange(-200, 701, 100))
    ax.set_xticklabels([])
    ax.tick_params(axis='x', direction='out', length=7, width=2.8, color='black')
    base = blended_transform_factory(ax.transData, ax.transAxes)
    lab = offset_copy(base, fig=fig, x=0, y=-31, units='dots')
    for x, s in [(0, '0'), (440, '(ms)'), (700, '700')]:
        ax.text(x, 0, s, transform=lab, ha='center', va='baseline', fontsize=18.5)
    if onset:
        tri = offset_copy(base, fig=fig, x=0, y=-34, units='dots')
        ax.plot([change_onset_ms], [0], marker='^', ms=17, color='black',
                transform=tri, clip_on=False)
        txt = offset_copy(base, fig=fig, x=0, y=-60, units='dots')
        ax.text(change_onset_ms, 0, 'change onset', transform=txt,
                ha='center', va='center', fontsize=17)


def stimulus(ax, levels, ms_label_at):
    ax.set_xlim(0, 500)
    ax.set_ylim(-1.25, 1.25)
    ax.patch.set_visible(False)
    tv = np.arange(tone_half_cycle_ms / 2, 500, tone_half_cycle_ms)
    amp = np.where(tv < 250, levels[0], levels[1])
    y = amp * (-1.0) ** np.arange(len(tv))
    n1 = int((tv < 250).sum())
    ax.plot(np.r_[0, tv[:n1]], np.r_[0, y[:n1]], color='black', lw=3.3,
            solid_joinstyle='miter')
    xs = np.r_[tv[n1 - 1:], 500]
    ys = np.r_[y[n1 - 1:], 0]
    if levels[1] != levels[0]:
        ax.plot(xs, ys, color='black', lw=2.0)
        ax.plot(xs, ys, color='#f00000', lw=1.3)
    else:
        ax.plot(xs, ys, color='black', lw=3.3, solid_joinstyle='miter')
    for side in ('top', 'left', 'right'):
        ax.spines[side].set_visible(False)
    ax.spines['bottom'].set_position(('data', -1.2))
    ax.spines['bottom'].set_bounds(0, 500)
    ax.spines['bottom'].set_linewidth(1.2)
    ax.set_yticks([])
    ax.set_xticks([0, 500])
    ax.set_xticklabels([])
    ax.tick_params(axis='x', direction='in', length=4, width=1.2)
    lab = offset_copy(ax.transData, fig=fig, x=0, y=-26, units='dots')
    for x, s in [(0, '0'), (ms_label_at, '(ms)'), (500, '500')]:
        ax.text(x, -1.2, s, transform=lab, ha='center', va='baseline', fontsize=18)


# ---------------- panel A ----------------
ftext(12, 34, 'A', ha='left', va='center', fontsize=24)
ftext(275, 28, 'Deviant', ha='center', va='center', fontsize=26)
ftext(529, 28, 'Standard', ha='center', va='center', fontsize=26)
stimulus(px_axes(219, 63.5, 114, 80), deviant_levels, 247)
stimulus(px_axes(468, 63.5, 112, 80), standard_levels, 221)

# ---------------- panel B ----------------
ftext(12, 230, 'B', ha='left', va='center', fontsize=24)
col_titles = ['Deviant', 'Standard', 'Difference']
col_title_x = [285, 609, 935]
for s, x in zip(col_titles, col_title_x):
    ftext(x, 269, s, ha='center', va='center', fontsize=26)

col_left = [154.5, 476.5, 797.5]
bar_shift = [[0, 0, 0], [0, 0, 0], [0, 0, 12]]
row_y = [[348.2, 429.2, 505.1, 577.9, 646.4],
         [820.0, 886.5, 953.0, 1020.6, 1087.1],
         [1264.8, 1334.4, 1401.0, 1463.3, 1530.9]]
bar_y = [675.5, 1123.5, 1561.0]
group_title_y = [305, 781, 1224]
spread = [1.3, 1.3, 1.5]

panel_no = 0
for g in range(3):
    ftext(23, group_title_y[g], group_titles[g], ha='left', va='center', fontsize=22)
    columns = [deviant[g], standard[g], difference[g]]
    for r in range(5):
        ftext(140, row_y[g][r] + 3, row_labels[g][r], ha='right', va='center', fontsize=23)
        for c in range(3):
            ax = px_axes(col_left[c], row_y[g][r] - 60, 274.5, 120)
            ax.set_xlim(-350, 700)
            ax.set_ylim(-15, 15)
            ax.set_axis_off()
            draw_traces(ax, columns[c][r], panel_no, spread[g])
            if g == 0 and r == 4:
                ax.plot([stray_dot[0]], [stray_dot[1]], marker='s', ms=3,
                        color='#1a1aff', mec='none', clip_on=False)
            panel_no += 1
    for c in range(3):
        bax = px_axes(col_left[c] + bar_shift[g][c], bar_y[g] - 10, 274.5, 10)
        time_bar(bax, onset=(g == 2 and c != 1))

fig.savefig('out.png', dpi=100)
